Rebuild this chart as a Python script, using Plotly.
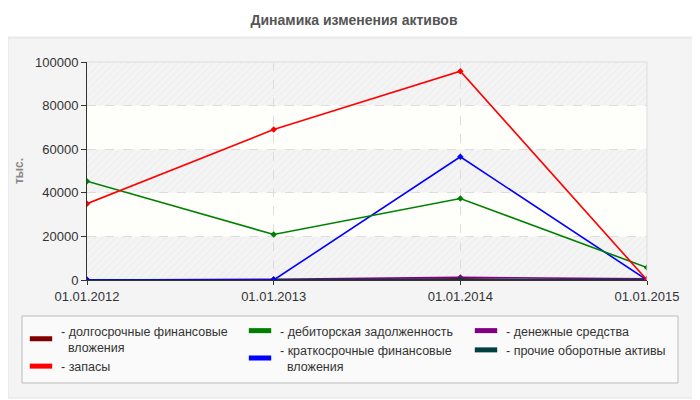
import plotly.graph_objects as go

# Данные (тыс.)
dates = ["01.01.2012", "01.01.2013", "01.01.2014", "01.01.2015"]
dolgosrochnye = [0, 0, 500, 0]
debitorskaya = [45300, 20900, 37400, 5700]
denezhnye = [0, 300, 1200, 500]
zapasy = [35000, 69000, 95800, 0]
kratkosrochnye = [0, 0, 56500, 0]
prochie = [100, 100, 100, 100]

y_ticks = [0, 20000, 40000, 60000, 80000, 100000]

# (подпись, значения, цвет, колонка легенды)
series = [
    ("- долгосрочные финансовые<br>&nbsp;&nbsp;вложения", dolgosrochnye, "#800000", "legend"),
    ("- запасы", zapasy, "#ff0000", "legend"),
    ("- дебиторская задолженность", debitorskaya, "#008000", "legend2"),
    ("- краткосрочные финансовые<br>&nbsp;&nbsp;вложения", kratkosrochnye, "#0000ff", "legend2"),
    ("- денежные средства", denezhnye, "#800080", "legend3"),
    ("- прочие оборотные активы", prochie, "#004040", "legend3"),
]

x = list(range(len(dates)))
fig = go.Figure()

# фон: штриховка на чередующихся полосах, светлые полосы между ними
band_shapes = []
for i in range(len(y_ticks) - 1):
    lo, hi = y_ticks[i], y_ticks[i + 1]
    if i % 2 == 0:
        fig.add_trace(go.Scatter(
            x=[x[0], x[-1], x[-1], x[0], x[0]], y=[lo, lo, hi, hi, lo],
            mode="lines", line=dict(width=0), fill="toself",
            fillcolor="rgba(0,0,0,0)",
            fillpattern=dict(shape="/", fgcolor="rgba(215,215,215,0.45)",
                             bgcolor="rgba(0,0,0,0)", size=5, solidity=0.25),
            showlegend=False, hoverinfo="skip",
        ))
    else:
        band_shapes.append(dict(type="rect", xref="x domain", yref="y", layer="below",
                                x0=0, x1=1, y0=lo, y1=hi,
                                fillcolor="#fefefa", line=dict(width=0)))

# линии: сначала нижние, красная сверху
draw_order = [0, 4, 5, 3, 2, 1]
for idx in draw_order:
    name, vals, color, lg = series[idx]
    fig.add_trace(go.Scatter(
        x=x, y=vals, mode="lines+markers",
        line=dict(color=color, width=1.6),
        marker=dict(symbol="diamond", size=5, color=color),
        showlegend=False, name=name,
    ))

# легенда (три колонки)
for name, vals, color, lg in series:
    fig.add_trace(go.Scatter(
        x=[None], y=[None], mode="markers", name=name, legend=lg,
        marker=dict(symbol="line-ew", size=16, color=color,
                    line=dict(color=color, width=5)),
    ))

# страница сдвинута на 8px (отступ body), поэтому всё считаем в экранных px
OFF = 8
W, H = 700 - OFF, 400 - OFF
L, R, T, B = 87 - OFF, 700 - 647, 62 - OFF, 400 - 280
pw, ph = W - L - R, H - T - B


def px(v):
    return (v - OFF - L) / pw


def py(v):
    return (H - B - (v - OFF)) / ph


def legend_col(x_screen):
    return dict(
        orientation="v", x=px(x_screen), y=py(316), xanchor="left", yanchor="top",
        bgcolor="rgba(0,0,0,0)", font=dict(size=12.5, color="#333"),
        itemwidth=30, tracegroupgap=0,
    )


fig.update_layout(
    width=W, height=H,
    margin=dict(l=L, r=R, t=T, b=B, autoexpand=False),
    paper_bgcolor="white",
    plot_bgcolor="#fbfbfb",
    font=dict(family="Liberation Sans, Arial", size=13, color="#333"),
    title=dict(text="<b>Динамика изменения активов</b>", x=0.5, xanchor="center",
               y=1 - (20 - OFF) / H, yanchor="middle",
               font=dict(size=14, color="#555")),
    showlegend=True,
    legend=legend_col(21),
    legend2=legend_col(240),
    legend3=legend_col(466),
    xaxis=dict(
        range=[x[0], x[-1]], tickvals=x, ticktext=dates,
        showgrid=True, gridcolor="#dddddd", griddash="dash", gridwidth=1,
        showline=True, linecolor="#333", linewidth=1,
        ticks="outside", ticklen=4, tickcolor="#333",
        zeroline=False, fixedrange=True,
    ),
    yaxis=dict(
        range=[0, 100000], tickvals=y_ticks, tickformat="d",
        showgrid=True, gridcolor="#dddddd", griddash="dash", gridwidth=1,
        showline=True, linecolor="#333", linewidth=1,
        ticks="outside", ticklen=5, tickcolor="#333",
        zeroline=False, fixedrange=True, automargin=True,
        title=dict(text="<b>тыс.</b>", font=dict(size=12, color="#888"), standoff=8),
    ),
    shapes=[
        dict(type="rect", xref="paper", yref="paper", layer="below",
             x0=px(OFF), x1=px(698), y0=py(398), y1=py(38),
             fillcolor="#f4f4f4", line=dict(color="#e2e2e2", width=1)),
        dict(type="line", xref="paper", yref="paper", layer="below",
             x0=px(OFF), x1=px(700), y0=py(37), y1=py(37),
             line=dict(color="#e6e6e6", width=1)),
        dict(type="rect", xref="paper", yref="paper", layer="below",
             x0=px(22), x1=px(678), y0=py(383), y1=py(316),
             fillcolor="#fafafa", line=dict(color="#bbbbbb", width=1)),
        dict(type="line", xref="paper", yref="paper", layer="above",
             x0=0, x1=1, y0=1, y1=1, line=dict(color="#dddddd", width=1)),
        dict(type="line", xref="paper", yref="paper", layer="above",
             x0=1, x1=1, y0=0, y1=1, line=dict(color="#dddddd", width=1)),
    ] + band_shapes,
)

fig.write_html("out.html")
